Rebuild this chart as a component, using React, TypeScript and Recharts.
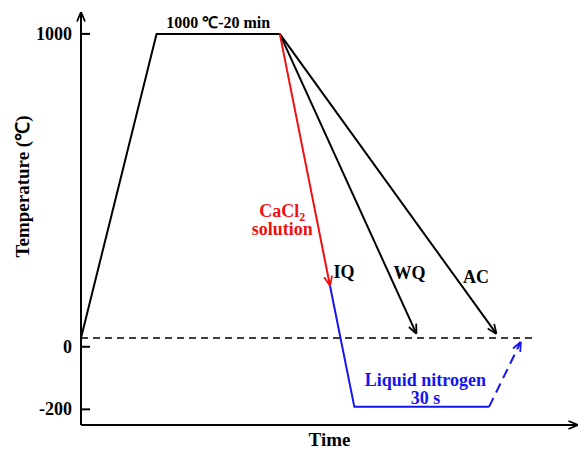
import { ComposedChart, Line, XAxis, YAxis, ReferenceDot } from "recharts";

const yTicks = [-200, 0, 1000];

// heat-treatment schedule, t in arbitrary time units, temp in °C
const heating = [
  { t: 0, temp: 28 },
  { t: 15.2, temp: 1000 },
  { t: 40, temp: 1000 },
];
const cacl2Quench = [
  { t: 40, temp: 1000 },
  { t: 50.1, temp: 195 },
];
const nitrogenHold = [
  { t: 50.1, temp: 195 },
  { t: 55, temp: -192 },
  { t: 82.1, temp: -192 },
];
const reheat = [
  { t: 82.1, temp: -192 },
  { t: 88.5, temp: 16 },
];
const waterQuench = [
  { t: 40, temp: 1000 },
  { t: 67.5, temp: 41 },
];
const airCool = [
  { t: 40, temp: 1000 },
  { t: 83.6, temp: 41 },
];
const roomTemp = [
  { t: 0, temp: 28 },
  { t: 91.2, temp: 28 },
];

const notes = [
  { t: 27.6, temp: 1038, text: "1000 ℃-20 min", color: "#000", size: 16 },
  { t: 52.9, temp: 239, text: "IQ", color: "#000", size: 18 },
  { t: 66.1, temp: 236, text: "WQ", color: "#000", size: 18 },
  { t: 79.5, temp: 224, text: "AC", color: "#000", size: 18 },
  { t: 69.3, temp: -104, text: "Liquid nitrogen", color: "#1515f0", size: 18 },
  { t: 69.3, temp: -162, text: "30 s", color: "#1515f0", size: 18 },
];

const FONT = '"Liberation Serif", "Times New Roman", serif';
const RED = "#f01010";
const BLUE = "#1515f0";

function Arrow({ id, color }: { id: string; color: string }) {
  return (
    <marker
      id={id}
      viewBox="0 0 10 10"
      refX={10}
      refY={5}
      markerWidth={10}
      markerHeight={10}
      markerUnits="userSpaceOnUse"
      orient="auto-start-reverse"
    >
      <path d="M0.5,1 L10,5 L0.5,9" fill="none" stroke={color} strokeWidth={1.8} />
    </marker>
  );
}

function YTick(props: any) {
  const { x, y, payload } = props;
  return (
    <g>
      <line x1={x + 9} x2={x + 18} y1={y} y2={y} stroke="#000" strokeWidth={2} />
      <text
        x={x}
        y={y}
        dy={6}
        textAnchor="end"
        fontFamily={FONT}
        fontWeight="bold"
        fontSize={18}
        fill="#000"
      >
        {payload.value}
      </text>
    </g>
  );
}

export default function App() {
  return (
    <div style={{ position: "absolute", left: 0, top: 0, background: "#fff" }}>
      <ComposedChart
        width={584}
        height={450}
        margin={{ top: 12, right: 6, bottom: 0, left: 0 }}
      >
        <defs>
          <Arrow id="arrBlack" color="#000" />
          <Arrow id="arrRed" color={RED} />
          <Arrow id="arrBlue" color={BLUE} />
        </defs>
        <XAxis
          type="number"
          dataKey="t"
          domain={[0, 100]}
          ticks={[]}
          tick={false}
          tickLine={false}
          height={25}
          axisLine={{ stroke: "#000", strokeWidth: 2, markerEnd: "url(#arrBlack)" }}
          label={{
            value: "Time",
            position: "center",
            dy: 2,
            fontFamily: FONT,
            fontWeight: "bold",
            fontSize: 19,
            fill: "#000",
          }}
        />
        <YAxis
          type="number"
          domain={[-250, 1070]}
          ticks={yTicks}
          width={81}
          tickSize={0}
          tickMargin={9}
          tickLine={false}
          tick={<YTick />}
          axisLine={{ stroke: "#000", strokeWidth: 2, markerStart: "url(#arrBlack)" }}
          label={{
            value: "Temperature (℃)",
            content: (p: any) => {
              const vb = p.viewBox;
              const cx = vb.x + 22;
              const cy = vb.y + vb.height / 2 - 32;
              return (
                <text
                  x={cx}
                  y={cy}
                  transform={`rotate(-90 ${cx} ${cy})`}
                  textAnchor="middle"
                  dominantBaseline="central"
                  fontFamily={FONT}
                  fontWeight="bold"
                  fontSize={19}
                  fill="#000"
                >
                  Temperature (℃)
                </text>
              );
            },
          }}
        />
        <Line
          data={roomTemp}
          dataKey="temp"
          stroke="#000"
          strokeWidth={1.5}
          strokeDasharray="7 5"
          dot={false}
          isAnimationActive={false}
        />
        <Line
          data={heating}
          dataKey="temp"
          stroke="#000"
          strokeWidth={2}
          dot={false}
          isAnimationActive={false}
        />
        <Line
          data={waterQuench}
          dataKey="temp"
          stroke="#000"
          strokeWidth={2}
          dot={false}
          markerEnd="url(#arrBlack)"
          isAnimationActive={false}
        />
        <Line
          data={airCool}
          dataKey="temp"
          stroke="#000"
          strokeWidth={2}
          dot={false}
          markerEnd="url(#arrBlack)"
          isAnimationActive={false}
        />
        <Line
          data={nitrogenHold}
          dataKey="temp"
          stroke={BLUE}
          strokeWidth={2}
          dot={false}
          isAnimationActive={false}
        />
        <Line
          data={reheat}
          dataKey="temp"
          stroke={BLUE}
          strokeWidth={2}
          strokeDasharray="10 6"
          dot={false}
          markerEnd="url(#arrBlue)"
          isAnimationActive={false}
        />
        <Line
          data={cacl2Quench}
          dataKey="temp"
          stroke={RED}
          strokeWidth={2}
          dot={false}
          markerEnd="url(#arrRed)"
          isAnimationActive={false}
        />
        {notes.map((n) => (
          <ReferenceDot
            key={n.text}
            x={n.t}
            y={n.temp}
            r={0}
            fill="none"
            stroke="none"
            ifOverflow="visible"
            label={{
              value: n.text,
              position: "center",
              fill: n.color,
              fontFamily: FONT,
              fontWeight: "bold",
              fontSize: n.size,
            }}
          />
        ))}
        <ReferenceDot
          x={40.5}
          y={415}
          r={0}
          fill="none"
          stroke="none"
          ifOverflow="visible"
          label={{
            content: (p: any) => {
              const vb = p.viewBox;
              const cx = vb.x + (vb.width || 0) / 2;
              const cy = vb.y + (vb.height || 0) / 2;
              return (
                <text
                  x={cx}
                  y={cy}
                  textAnchor="middle"
                  fontFamily={FONT}
                  fontWeight="bold"
                  fontSize={18}
                  fill={RED}
                >
                  <tspan x={cx}>
                    CaCl<tspan dy={4} fontSize={12}>2</tspan>
                  </tspan>
                  <tspan x={cx} dy={14}>
                    solution
                  </tspan>
                </text>
              );
            },
          }}
        />
      </ComposedChart>
    </div>
  );
}
